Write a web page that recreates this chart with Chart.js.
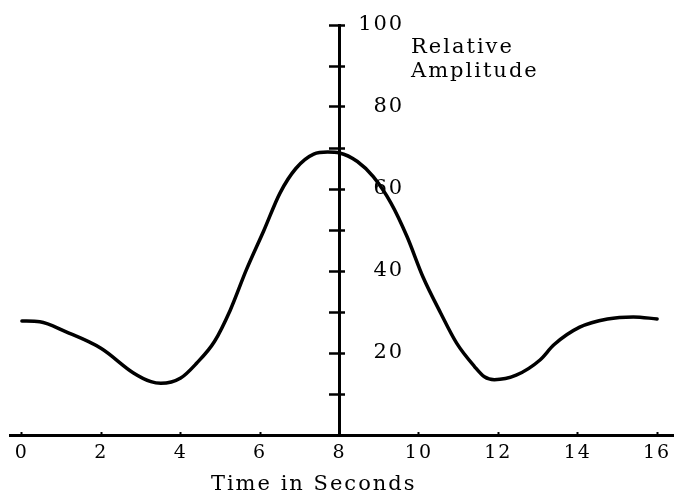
<!DOCTYPE html>
<html>
<head>
<meta charset="utf-8">
<script src="https://cdn.jsdelivr.net/npm/chart.js@4/dist/chart.umd.min.js"></script>
<style>
  html, body { margin: 0; padding: 0; background: #ffffff; }
  #wrap { width: 685px; height: 497px; }
</style>
</head>
<body>
<div id="wrap"><canvas id="c" width="685" height="497"></canvas></div>
<script>
// ---- data ----
const timeSeconds = [0, 0.45, 1.1, 2.0, 2.8, 3.25, 3.5, 4.0, 4.4, 4.85, 5.25, 5.65, 6.1, 6.5, 6.9, 7.35, 7.7, 8.0, 8.45, 8.85, 9.3, 9.7, 10.1, 10.55, 10.95, 11.4, 11.65, 11.9, 12.45, 13.05, 13.4, 14.05, 14.75, 15.4, 16.0];
const relativeAmplitude = [27.8, 27.6, 25.2, 21.1, 15.2, 13.0, 12.6, 13.9, 17.5, 22.8, 30.5, 40.2, 50, 59, 65, 68.5, 69, 68.8, 66.7, 63, 56.5, 48.4, 38.6, 29.7, 22.4, 16.7, 14.2, 13.5, 14.6, 18.3, 22, 26.3, 28.3, 28.8, 28.3];
const xTickValues = [0, 2, 4, 6, 8, 10, 12, 14, 16];
const yTickMarks = [10, 20, 30, 40, 50, 60, 70, 80, 90, 100];
const yTickLabels = [20, 40, 60, 80, 100];
const xAxisTitle = 'Time in Seconds';
const yAxisTitle = ['Relative', 'Amplitude'];

// ---- styling ----
const FAMILY = '"DejaVu Serif", "Liberation Serif", serif';
const INK = '#000000';
const X_MIN = -0.3, X_MAX = 16.4;
const SPACING = '2px';

function fixedTicks(values) {
  return function (scale) { scale.ticks = values.map(v => ({ value: v })); };
}

const letterSpacingPlugin = {
  id: 'letterSpacing',
  beforeUpdate(chart) { chart.ctx.letterSpacing = SPACING; },
  beforeLayout(chart) { chart.ctx.letterSpacing = SPACING; },
  beforeDraw(chart) { chart.ctx.letterSpacing = SPACING; }
};

const points = timeSeconds.map((t, i) => ({ x: t, y: relativeAmplitude[i] }));

new Chart(document.getElementById('c'), {
  type: 'line',
  data: {
    datasets: [{
      data: points,
      xAxisID: 'x',
      yAxisID: 'y',
      borderColor: INK,
      borderWidth: 3.5,
      pointRadius: 0,
      fill: false,
      cubicInterpolationMode: 'monotone',
      borderCapStyle: 'round',
      borderJoinStyle: 'round'
    }]
  },
  options: {
    responsive: false,
    animation: false,
    devicePixelRatio: 1,
    layout: { padding: { left: 10, right: 12, top: 25, bottom: 62 } },
    plugins: { legend: { display: false }, tooltip: { enabled: false } },
    scales: {
      x: {
        type: 'linear', axis: 'x', min: X_MIN, max: X_MAX,
        position: { y: 0 },
        border: { display: true, width: 3, color: INK },
        grid: { display: true, drawOnChartArea: false, drawTicks: true, tickLength: -5, tickWidth: 2, tickColor: INK, color: INK },
        ticks: { color: INK, font: { family: FAMILY, size: 19 }, padding: 12, autoSkip: false, maxRotation: 0, minRotation: 0, callback: v => String(v) },
        afterBuildTicks: fixedTicks(xTickValues)
      },
      y: {
        type: 'linear', axis: 'y', min: 0, max: 100,
        position: { x: 8 },
        border: { display: true, width: 3, color: INK },
        grid: { display: true, drawOnChartArea: false, drawTicks: true, tickLength: 9, tickWidth: 2.5, tickColor: INK, color: INK },
        ticks: { display: false },
        afterBuildTicks: fixedTicks(yTickMarks)
      },
      yTickRight: {
        type: 'linear', axis: 'y', min: 0, max: 100,
        position: { x: 8.15 },
        border: { display: false },
        grid: { display: true, drawOnChartArea: false, drawTicks: true, tickLength: 6, tickWidth: 2.5, tickColor: INK, color: INK },
        ticks: { display: false },
        afterBuildTicks: fixedTicks(yTickMarks)
      },
      yLabels: {
        type: 'linear', axis: 'y', min: 0, max: 100,
        position: { x: 9.63 },
        border: { display: false },
        grid: { display: false, drawTicks: false },
        ticks: { color: INK, font: { family: FAMILY, size: 21 }, padding: 0, callback: v => String(v) },
        afterBuildTicks: fixedTicks(yTickLabels)
      },
      xTitle: {
        type: 'linear', axis: 'x', min: X_MIN, max: X_MAX,
        position: { y: -9 },
        border: { display: false },
        grid: { display: false, drawTicks: false },
        ticks: { color: INK, font: { family: FAMILY, size: 21, lineHeight: 1.2 }, padding: 0, autoSkip: false, maxRotation: 0, minRotation: 0, callback: () => xAxisTitle },
        afterBuildTicks: fixedTicks([7.35])
      },
      yTitle: {
        type: 'linear', axis: 'x', min: X_MIN, max: X_MAX,
        position: { y: 97.2 },
        border: { display: false },
        grid: { display: false, drawTicks: false },
        ticks: { color: INK, align: 'start', font: { family: FAMILY, size: 21, lineHeight: 1.1 }, padding: 0, autoSkip: false, maxRotation: 0, minRotation: 0, callback: () => yAxisTitle },
        afterBuildTicks: fixedTicks([9.8])
      }
    }
  },
  plugins: [letterSpacingPlugin]
});
</script>
</body>
</html>
